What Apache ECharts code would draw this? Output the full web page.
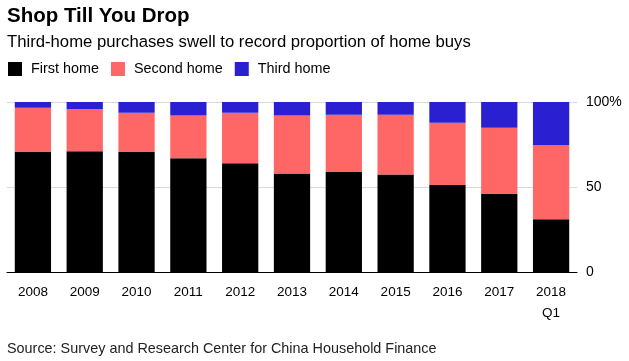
<!DOCTYPE html>
<html><head><meta charset="utf-8">
<script src="https://cdn.jsdelivr.net/npm/echarts@6/dist/echarts.min.js"></script>
<style>html,body{margin:0;padding:0;background:#fff}#c{width:629px;height:361px}</style>
</head><body><div id="c"></div>
<script>
const categories = ['2008','2009','2010','2011','2012','2013','2014','2015','2016','2017','2018\nQ1'];
const firstHome  = [70.6, 71.0, 70.6, 66.9, 63.9, 58.0, 58.8, 57.4, 51.2, 45.9, 31.0];
const secondHome = [26.0, 24.9, 23.1, 25.1, 29.8, 34.0, 33.7, 35.1, 36.6, 39.0, 43.5];
const thirdHome  = [3.4, 4.1, 6.3, 8.0, 6.3, 8.0, 7.5, 7.5, 12.2, 15.1, 25.5];
const yTicks = {0:'0', 50:'50', 100:'100%'};

const font = 'Liberation Sans, Arial, Helvetica, sans-serif';
const chart = echarts.init(document.getElementById('c'), null, {renderer:'canvas'});
chart.setOption({
  animation:false,
  textStyle:{fontFamily:font},
  title:[
    {text:'Shop Till You Drop', left:2, top:1, textStyle:{fontFamily:font, fontSize:20.5, fontWeight:'bold', color:'#000'}},
    {text:'Third-home purchases swell to record proportion of home buys', left:2, top:29, textStyle:{fontFamily:font, fontSize:16.7, fontWeight:'normal', color:'#000'}},
    {text:'Source: Survey and Research Center for China Household Finance', left:2, top:337, textStyle:{fontFamily:font, fontSize:14.4, fontWeight:'normal', color:'#222'}}
  ],
  legend:{
    left:3, top:57, itemWidth:14, itemHeight:14, itemGap:12, icon:'rect',
    textStyle:{fontFamily:font, fontSize:14.4, color:'#000', padding:[0,0,0,4]},
    data:['First home','Second home','Third home']
  },
  grid:{left:7, right:52, top:102, bottom:89, containLabel:false},
  xAxis:{
    type:'category', data:categories,
    axisLine:{lineStyle:{color:'#000', width:1}},
    axisTick:{alignWithLabel:true, length:5, lineStyle:{color:'#000'}},
    axisLabel:{fontFamily:font, fontSize:13.5, color:'#000', margin:10, lineHeight:21}
  },
  yAxis:{
    type:'value', position:'right', min:0, max:100, interval:50,
    axisLine:{show:false}, axisTick:{show:false},
    splitLine:{lineStyle:{color:'#d9d9d9', width:1}},
    axisLabel:{fontFamily:font, fontSize:14, color:'#000', margin:9, formatter:v=>yTicks[v]}
  },
  series:[
    {name:'First home', type:'bar', stack:'s', data:firstHome, barCategoryGap:'30%', itemStyle:{color:'#000000'}},
    {name:'Second home', type:'bar', stack:'s', data:secondHome, itemStyle:{color:'#ff6666'}},
    {name:'Third home', type:'bar', stack:'s', data:thirdHome, itemStyle:{color:'#2a20d2'}}
  ]
});
</script></body></html>
